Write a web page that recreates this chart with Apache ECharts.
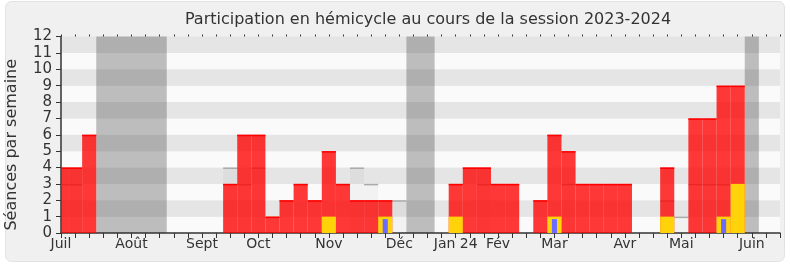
<!DOCTYPE html>
<html>
<head>
<meta charset="utf-8">
<script src="https://cdn.jsdelivr.net/npm/echarts@6/dist/echarts.min.js"></script>
<style>html,body{margin:0;padding:0;background:#fff}#c{width:790px;height:267px}</style>
</head>
<body>
<div id="c"></div>
<script>
// week index (0 = first week of July 2023)
const weeks = [];
for (let i = 0; i <= 51; i++) weeks.push(i);
// sessions attended per week (red)
const presence = [4,4,6,0,0,0,0,0,0,0,0,0,3,6,6,1,2,3,2,5,3,2,2,2,0,0,0,0,3,4,4,3,3,0,2,6,5,3,3,3,3,0,0,4,0,7,7,9,9,0,0,0];
// median reference (grey)
const median   = [3,3,0,0,0,0,0,0,0,0,0,0,4,3,4,0,0,0,0,0,0,4,3,0,2,0,0,0,0,0,3,0,0,0,0,0,3,0,0,0,0,0,0,2,1,3,3,3,0,0,0,0];
// interventions (gold)
const interv   = [0,0,0,0,0,0,0,0,0,0,0,0,0,0,0,0,0,0,0,1,0,0,0,1,0,0,0,0,1,0,0,0,0,0,0,1,0,0,0,0,0,0,0,1,0,0,0,1,3,0,0,0];
// questions (blue)
const questions= [0,0,0,0,0,0,0,0,0,0,0,0,0,0,0,0,0,0,0,0,0,0,0,0.85,0,0,0,0,0,0,0,0,0,0,0,0.85,0,0,0,0,0,0,0,0,0,0,0,0.85,0,0,0,0];
// vacation periods [start, end] in week units
const vacations = [[2.5,7.5],[24.5,26.5],[48.5,49.5]];
// month tick labels
const monthTicks = {0:'Juil',5:'Août',10:'Sept',14:'Oct',19:'Nov',24:'Déc',28:'Jan 24',31:'Fév',35:'Mar',40:'Avr',44:'Mai',49:'Juin'};
const yTicks = [0,1,2,3,4,5,6,7,8,9,10,11,12];

function makeRender(fill, stroke, lw, width) {
  return function (params, api) {
    const x = api.value(0), v = api.value(1);
    if (!v) return null;
    const cs = params.coordSys;
    const a = api.coord([x - width / 2, 0]);
    const b = api.coord([x + width / 2, v]);
    const x0 = Math.max(a[0], cs.x), x1 = Math.min(b[0], cs.x + cs.width);
    if (x1 <= x0) return null;
    const children = [{
      type: 'rect',
      shape: { x: x0, y: b[1], width: x1 - x0, height: a[1] - b[1] },
      style: { fill: fill }
    }];
    if (stroke) children.push({
      type: 'line',
      shape: { x1: x0, y1: b[1] + lw / 2, x2: x1, y2: b[1] + lw / 2 },
      style: { stroke: stroke, lineWidth: lw }
    });
    return { type: 'group', children: children };
  };
}
function pairs(arr) { return weeks.map((w, i) => [w, arr[i]]); }

const chart = echarts.init(document.getElementById('c'), null, { renderer: 'canvas' });
const font = 'DejaVu Sans';
chart.setOption({
  animation: false,
  backgroundColor: '#ffffff',
  graphic: [{
    type: 'rect', z: -10, silent: true,
    shape: { x: 5.5, y: 1.5, width: 779, height: 260, r: 6 },
    style: { fill: '#f0f0f0', stroke: '#e2e2e2', lineWidth: 1 }
  }],
  title: {
    text: 'Participation en hémicycle au cours de la session 2023-2024',
    left: 423, top: 7, textAlign: 'center',
    textStyle: { fontFamily: font, fontSize: 16, fontWeight: 'normal', color: '#333' }
  },
  grid: { left: 61, right: 10, top: 36.5, bottom: 34, containLabel: false, outerBoundsMode: 'none' },
  xAxis: [{
    type: 'value', min: 0, max: 51, interval: 1,
    axisLine: { show: true, lineStyle: { color: '#333', width: 1.5 } },
    axisTick: { show: true, length: 5, lineStyle: { color: '#333' } },
    splitLine: { show: false },
    axisLabel: {
      fontFamily: font, fontSize: 14, color: '#333', margin: 4,
      formatter: v => monthTicks[v] || ''
    }
  }, {
    type: 'value', min: 0, max: 51, interval: 1, position: 'top',
    axisLine: { show: false },
    axisTick: { show: true, length: 2, lineStyle: { color: '#333' } },
    axisLabel: { show: false }, splitLine: { show: false }
  }],
  yAxis: {
    type: 'value', min: 0, max: 12, interval: 1,
    name: 'Séances par semaine', nameLocation: 'middle', nameGap: 41, nameRotate: 90,
    nameTextStyle: { fontFamily: font, fontSize: 16, color: '#333', padding: [0, 20, 0, 0] },
    axisLine: { show: true, lineStyle: { color: '#333', width: 1.5 } },
    axisTick: { show: true, length: 5, lineStyle: { color: '#333' } },
    axisLabel: { fontFamily: font, fontSize: 15, color: '#333', margin: 9,
      formatter: v => yTicks.indexOf(v) >= 0 ? String(v) : '' },
    splitLine: { show: false },
    splitArea: { show: true, areaStyle: { color: ['#fafafa', '#e5e5e5'] } }
  },
  series: [{
    type: 'custom', name: 'median', renderItem: makeRender('rgba(0,0,0,0.03)', '#aaaaaa', 1.5, 1),
    data: pairs(median), encode: { x: 0, y: 1 },
    markArea: {
      silent: true,
      itemStyle: { color: 'rgba(50,50,50,0.3)' },
      data: vacations.map(v => [{ xAxis: v[0], yAxis: 0 }, { xAxis: v[1], yAxis: 12 }])
    }
  }, {
    type: 'custom', name: 'presence', renderItem: makeRender('rgba(255,0,0,0.78)', '#ff0000', 1.5, 1),
    data: pairs(presence), encode: { x: 0, y: 1 }
  }, {
    type: 'custom', name: 'interventions', renderItem: makeRender('#ffd20a', null, 0, 1),
    data: pairs(interv), encode: { x: 0, y: 1 }
  }, {
    type: 'custom', name: 'questions', renderItem: makeRender('#6b6bff', null, 0, 0.36),
    data: pairs(questions), encode: { x: 0, y: 1 }
  }]
});
</script>
</body>
</html>
